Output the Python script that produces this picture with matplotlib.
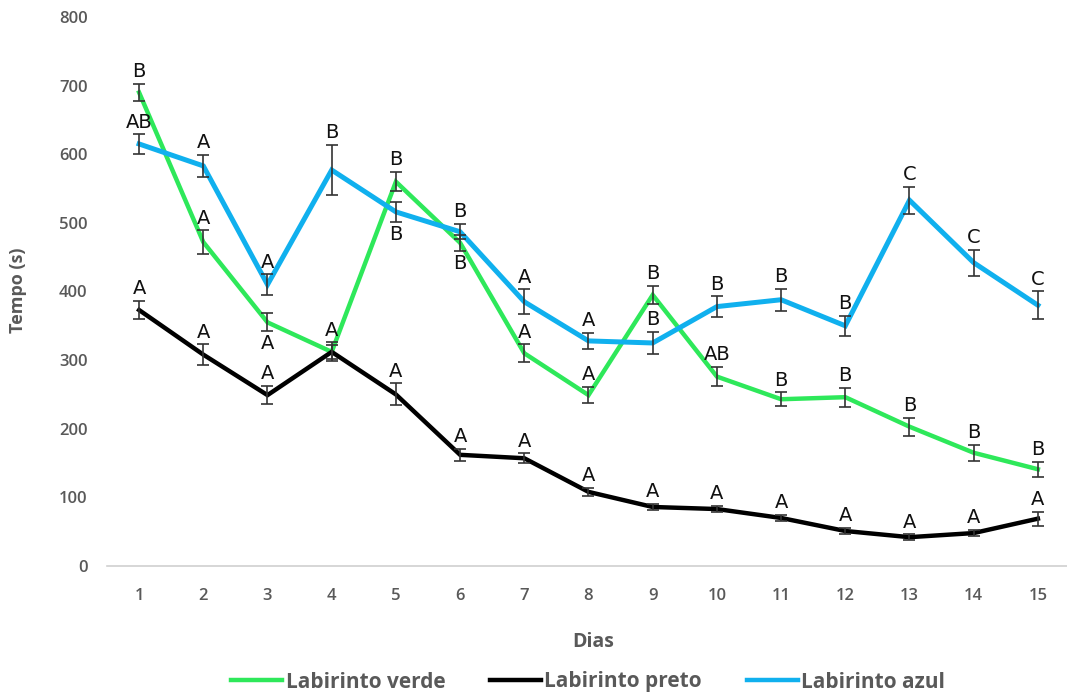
import matplotlib
matplotlib.use("Agg")
import matplotlib.pyplot as plt
from matplotlib.lines import Line2D
from matplotlib import font_manager as fm

dias = list(range(1, 16))

verde = [690, 472, 355, 312, 560, 471, 310, 249, 395, 276, 243, 246, 203, 165, 141]
verde_err = [12, 17, 13, 10, 14, 12, 13, 12, 13, 14, 10, 14, 13, 12, 11]
verde_let = ["B", "A", "A", "A", "B", "B", "A", "A", "B", "AB", "B", "B", "B", "B", "B"]
verde_pos = ["up", "up", "down", "none", "up", "down", "up", "up", "up", "up", "up", "up", "up", "up", "up"]

preto = [373, 308, 249, 312, 250, 162, 157, 108, 86, 83, 70, 51, 42, 48, 69]
preto_err = [13, 15, 13, 14, 16, 9, 7, 6, 5, 5, 5, 5, 4, 5, 10]
preto_let = ["A"] * 15
preto_pos = ["up"] * 15

azul = [615, 583, 410, 577, 516, 487, 385, 328, 325, 378, 388, 350, 533, 442, 380]
azul_err = [14, 16, 15, 37, 15, 11, 18, 12, 16, 15, 16, 15, 20, 19, 20]
azul_let = ["AB", "A", "A", "B", "B", "B", "A", "A", "B", "B", "B", "B", "C", "C", "C"]
azul_pos = ["up", "up", "up", "up", "down", "up", "up", "up", "up", "up", "up", "up", "up", "up", "up"]

series = [
    ("Labirinto verde", verde, verde_err, verde_let, verde_pos, "#2EE85A", 3.2),
    ("Labirinto preto", preto, preto_err, preto_let, preto_pos, "#000000", 3.2),
    ("Labirinto azul", azul, azul_err, azul_let, azul_pos, "#10B0EE", 3.6),
]

W, H = 1067, 697
fig = plt.figure(figsize=(W / 100, H / 100), dpi=100)
ax = fig.add_axes([107 / W, 1 - 566 / H, (1070 - 107) / W, (566 - 17) / H])

grey = "#595959"
ui = ["Open Sans", "DejaVu Sans"]

for name, vals, errs, lets, poss, col, lw in series:
    ax.plot(dias, vals, color=col, lw=lw, solid_joinstyle="miter", zorder=3)
    ax.errorbar(dias, vals, yerr=errs, fmt="none", ecolor="#333333",
                elinewidth=1.2, capsize=4.5, capthick=1.2, zorder=4)
    for x, v, e, l, p in zip(dias, vals, errs, lets, poss):
        if p == "up":
            ax.annotate(l, (x, v + e), xytext=(0, 2), textcoords="offset points",
                        ha="center", va="bottom", fontsize=14, color="#111111",
                        family="DejaVu Sans", zorder=5)
        elif p == "down":
            ax.annotate(l, (x, v - e), xytext=(0, -2), textcoords="offset points",
                        ha="center", va="top", fontsize=14, color="#111111",
                        family="DejaVu Sans", zorder=5)

ax.set_xlim(0.5, 15.5)
ax.set_ylim(0, 800)
ax.set_yticks(range(0, 801, 100))
ax.set_xticks(dias)
for s in ["top", "right", "left"]:
    ax.spines[s].set_visible(False)
ax.spines["bottom"].set_color("#D0D0D0")
ax.spines["bottom"].set_linewidth(1.2)
ax.tick_params(axis="both", length=0)
ax.tick_params(axis="y", pad=14)
ax.tick_params(axis="x", pad=16)
for t in list(ax.get_yticklabels()) + list(ax.get_xticklabels()):
    t.set_fontfamily(ui)
    t.set_fontsize(12)
    t.set_fontweight("semibold")
    t.set_color(grey)

fig.text(18 / W, 1 - 290 / H, "Tempo (s)", rotation=90, ha="center", va="center",
         fontsize=13, fontweight="bold", color=grey, family=ui)
fig.text(593 / W, 1 - 642 / H, "Dias", ha="center", va="center",
         fontsize=14, fontweight="bold", color=grey, family=ui)

handles = [Line2D([0], [0], color=c, lw=3.2) for _, _, _, _, _, c, _ in series]
labels = [n for n, *_ in series]
leg = fig.legend(handles, labels, loc="center", bbox_to_anchor=(588 / W, 1 - 682 / H),
                 ncol=3, frameon=False, handlelength=2.45, handletextpad=0.15,
                 columnspacing=2.15,
                 prop=fm.FontProperties(family=ui, size=15, weight="bold"))
for t in leg.get_texts():
    t.set_color(grey)

fig.savefig("out.png", dpi=100)
